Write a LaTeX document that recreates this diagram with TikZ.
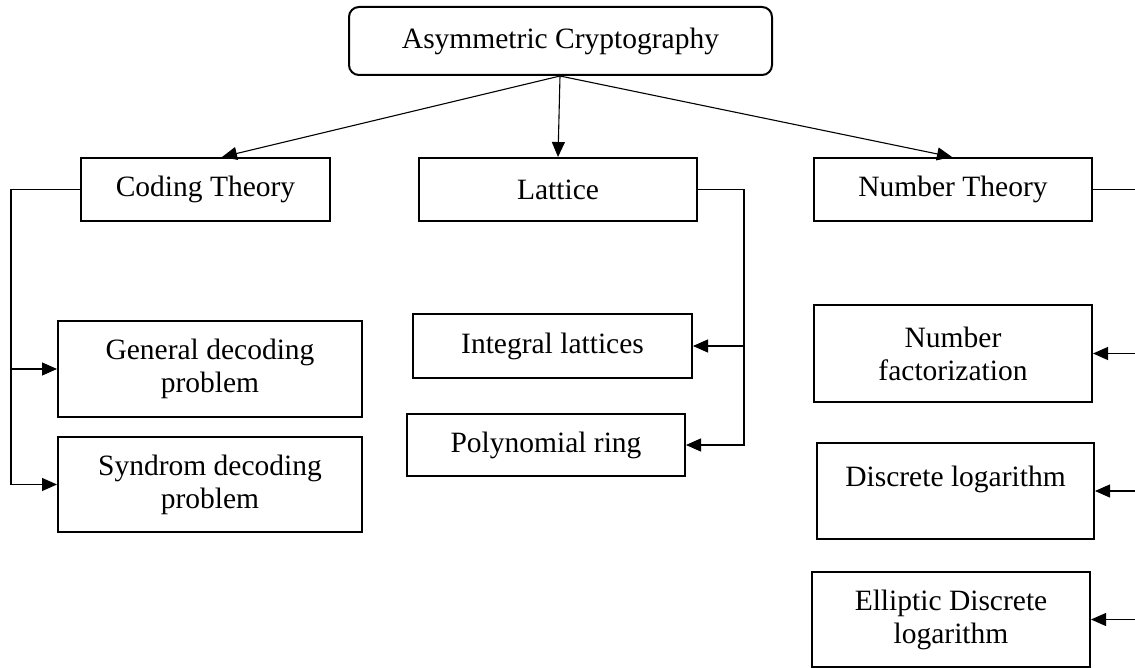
\documentclass[tikz,border=0pt]{standalone}
\usepackage{fontspec}
\setmainfont{Liberation Serif}
\usetikzlibrary{arrows.meta}
\begin{document}
\begin{tikzpicture}[x=1pt,y=-1pt,
  box/.style={draw, line width=2pt, align=center, inner sep=0pt,
    font=\fontsize{29.5}{33}\selectfont},
  link/.style={line width=1.1pt},
  arr/.style={link, -{Triangle[length=15pt,width=13pt]}}]
\useasboundingbox (0,0) rectangle (1135,668);

% root
\node[box, rounded corners=10pt, minimum width=423pt, minimum height=68pt]
  (root) at (560.5,41) {Asymmetric Cryptography};

% three families
\node[box, minimum width=249pt, minimum height=63pt] (coding) at (205.5,189.5) {Coding Theory};
\node[box, minimum width=278pt, minimum height=63pt] (lattice) at (558,189.5) {Lattice};
\node[box, minimum width=278pt, minimum height=63pt] (number) at (953,189.5) {Number Theory};

% coding theory problems
\node[box, minimum width=304pt, minimum height=96pt] (gdp) at (210,369) {General decoding\\problem};
\node[box, minimum width=304pt, minimum height=95pt] (sdp) at (210,484.5) {Syndrom decoding\\problem};

% lattice problems
\node[box, minimum width=279pt, minimum height=64pt] (integral) at (552.5,346) {Integral lattices};
\node[box, minimum width=278pt, minimum height=62pt] (poly) at (546,445) {Polynomial ring};

% number theory problems
\node[box, minimum width=278pt, minimum height=97pt] (nf) at (953,353.5) {Number\\factorization};
\node[box, minimum width=277pt, minimum height=96pt, text height=20pt, text depth=29pt]
  (dl) at (955.5,491) {Discrete logarithm};
\node[box, minimum width=278pt, minimum height=95pt] (ell) at (951,619.5) {Elliptic Discrete\\logarithm};

% root to families
\coordinate (fork) at (560,76);
\draw[arr] (fork) -- ([xshift=16.5pt]coding.north);
\draw[arr] (fork) -- (lattice.north);
\draw[arr] (fork) -- ([xshift=-1pt]number.north);

% coding theory bus
\coordinate (cbus) at (11,189.5);
\draw[link] (coding.west) -- (cbus);
\draw[arr] (cbus) |- (sdp.west);
\draw[arr] (cbus |- gdp.west) -- (gdp.west);

% lattice bus
\coordinate (lbus) at (744,189.5);
\draw[link] (lattice.east) -- (lbus);
\draw[arr] (lbus) |- (poly.east);
\draw[arr] (lbus |- integral.east) -- (integral.east);

% number theory bus (runs along the right edge)
\coordinate (nbus) at (1136,189.5);
\draw[link] (number.east) -- (nbus);
\draw[arr] (nbus |- nf.east) -- (nf.east);
\draw[arr] (nbus |- dl.east) -- (dl.east);
\draw[arr] (nbus |- ell.east) -- (ell.east);
\end{tikzpicture}
\end{document}
